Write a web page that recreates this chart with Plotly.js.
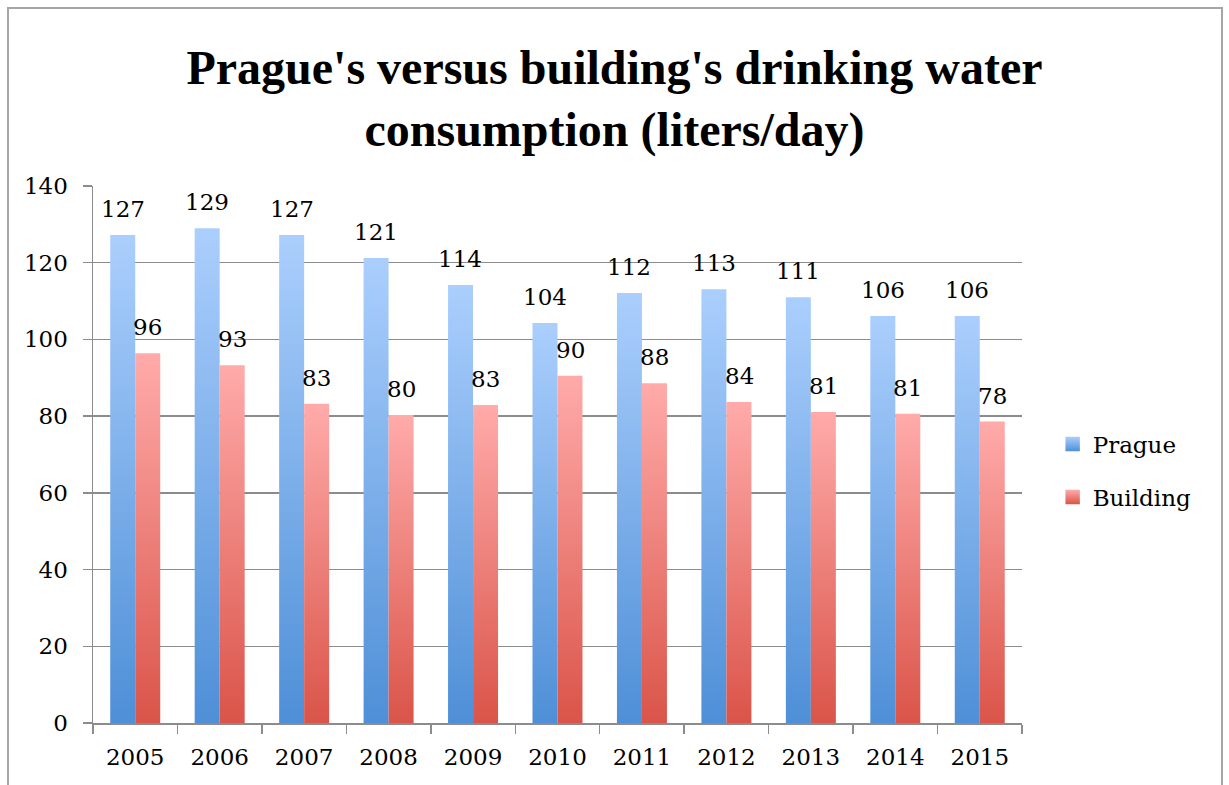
<!DOCTYPE html>
<html>
<head>
<meta charset="utf-8">
<script src="https://cdn.plot.ly/plotly-3.0.1.min.js"></script>
<style>
html,body{margin:0;padding:0;background:#fff;overflow:hidden;}
#chart{width:1229px;height:785px;}
</style>
</head>
<body>
<div id="chart"></div>
<script>
const years = ['2005','2006','2007','2008','2009','2010','2011','2012','2013','2014','2015'];
const prague = [127.2, 129.0, 127.2, 121.2, 114.2, 104.3, 112.1, 113.1, 111.0, 106.1, 106.1];
const building = [96.4, 93.3, 83.2, 80.3, 82.9, 90.5, 88.6, 83.7, 81.1, 80.6, 78.6];
const pragueLabels = ['127','129','127','121','114','104','112','113','111','106','106'];
const buildingLabels = ['96','93','83','80','83','90','88','84','81','81','78'];
const seriesNames = ['Prague','Building'];

const serif = 'DejaVu Serif, Liberation Serif, serif';
const grid = '#8c8c8c';

const data = [
  {type:'bar', name:seriesNames[0], x:years, y:prague, marker:{color:'#7cb0ec'}, legendgroup:'a', hoverinfo:'none'},
  {type:'bar', name:seriesNames[1], x:years, y:building, marker:{color:'#ec7f78'}, legendgroup:'b', hoverinfo:'none'}
];

const annotations = [];
years.forEach((yr,i)=>{
  annotations.push({xref:'x', yref:'y', x:i, y:prague[i], text:pragueLabels[i], showarrow:false, xshift:-12.6, yshift:11, yanchor:'bottom', font:{family:serif, size:23, color:'#000'}});
  annotations.push({xref:'x', yref:'y', x:i, y:building[i], text:buildingLabels[i], showarrow:false, xshift:12.6, yshift:11, yanchor:'bottom', font:{family:serif, size:23, color:'#000'}});
});

const layout = {
  width:1229, height:785,
  margin:{l:93, r:207, t:186, b:62},
  paper_bgcolor:'#fff', plot_bgcolor:'#fff',
  barmode:'group', bargap:0.408, bargroupgap:0,
  title:{text:"Prague's versus building's drinking water<br>consumption (liters/day)", font:{family:'Liberation Serif, Times New Roman, serif', size:48, color:'#000', weight:'bold'}, x:0.5, xref:'container', xanchor:'center', y:0.893, yref:'container', yanchor:'top'},
  xaxis:{type:'category', categoryorder:'array', categoryarray:years, range:[-0.5, years.length-0.5], autorange:false, showline:true, linecolor:grid, linewidth:1.5, ticks:'outside', tickson:'boundaries', ticklen:9, tickcolor:grid, tickwidth:1.5, ticklabelstandoff:13, tickangle:0, tickfont:{family:serif, size:23, color:'#000'}, showgrid:false, fixedrange:true},
  yaxis:{range:[0,140], autorange:false, dtick:20, showline:true, linecolor:grid, linewidth:1.5, showgrid:true, gridcolor:grid, gridwidth:1.5, ticks:'outside', ticklen:9, tickcolor:grid, tickwidth:1.5, ticklabelstandoff:10, tickfont:{family:serif, size:23, color:'#000'}, zeroline:false, fixedrange:true},
  legend:{x:1.033, xanchor:'left', y:0.47, yanchor:'middle', font:{family:serif, size:23, color:'#000'}, tracegroupgap:20, bgcolor:'rgba(0,0,0,0)'},
  showlegend:true,
  annotations:annotations,
  shapes:[{type:'rect', xref:'paper', yref:'paper', x0:-0.0915, x1:1.2153, y0:-0.3, y1:1.3314, line:{color:'#a6a6a6', width:2}, fillcolor:'rgba(0,0,0,0)', layer:'below'}]
};

function applyGradients(gd){
  const svg = gd.querySelector('svg.main-svg');
  const ns = 'http://www.w3.org/2000/svg';
  let defs = svg.querySelector('defs');
  if(!defs){defs = document.createElementNS(ns,'defs'); svg.insertBefore(defs, svg.firstChild);}
  const stops = [['#abcffd','#4e8fd7'],['#ffabaa','#da5449']];
  stops.forEach((s,i)=>{
    if(svg.querySelector('#bargrad'+i)) return;
    const g = document.createElementNS(ns,'linearGradient');
    g.setAttribute('id','bargrad'+i);
    g.setAttribute('x1','0');g.setAttribute('y1','0');g.setAttribute('x2','0');g.setAttribute('y2','1');
    [[0,s[0]],[1,s[1]]].forEach(([o,c])=>{
      const st = document.createElementNS(ns,'stop');
      st.setAttribute('offset',o);st.setAttribute('stop-color',c);
      g.appendChild(st);
    });
    defs.appendChild(g);
  });
  gd.querySelectorAll('.barlayer .trace').forEach((tr,i)=>{
    tr.querySelectorAll('path').forEach(p=>{p.style.fill='url(#bargrad'+i+')';});
  });
  gd.querySelectorAll('.legend .traces').forEach((tr,i)=>{
    tr.querySelectorAll('.legendpoints path').forEach(p=>{
      p.style.fill='url(#bargrad'+i+')'; p.style.stroke='none';
      if(!p.dataset.scaled){
        const t = p.getAttribute('transform') || '';
        p.setAttribute('transform', (t+' scale(1.2)').trim());
        p.dataset.scaled='1';
      }
    });
  });
}

Plotly.newPlot('chart', data, layout, {staticPlot:true, displayModeBar:false}).then(gd=>{
  applyGradients(gd);
  gd.on('plotly_afterplot', ()=>applyGradients(gd));
});
</script>
</body>
</html>
